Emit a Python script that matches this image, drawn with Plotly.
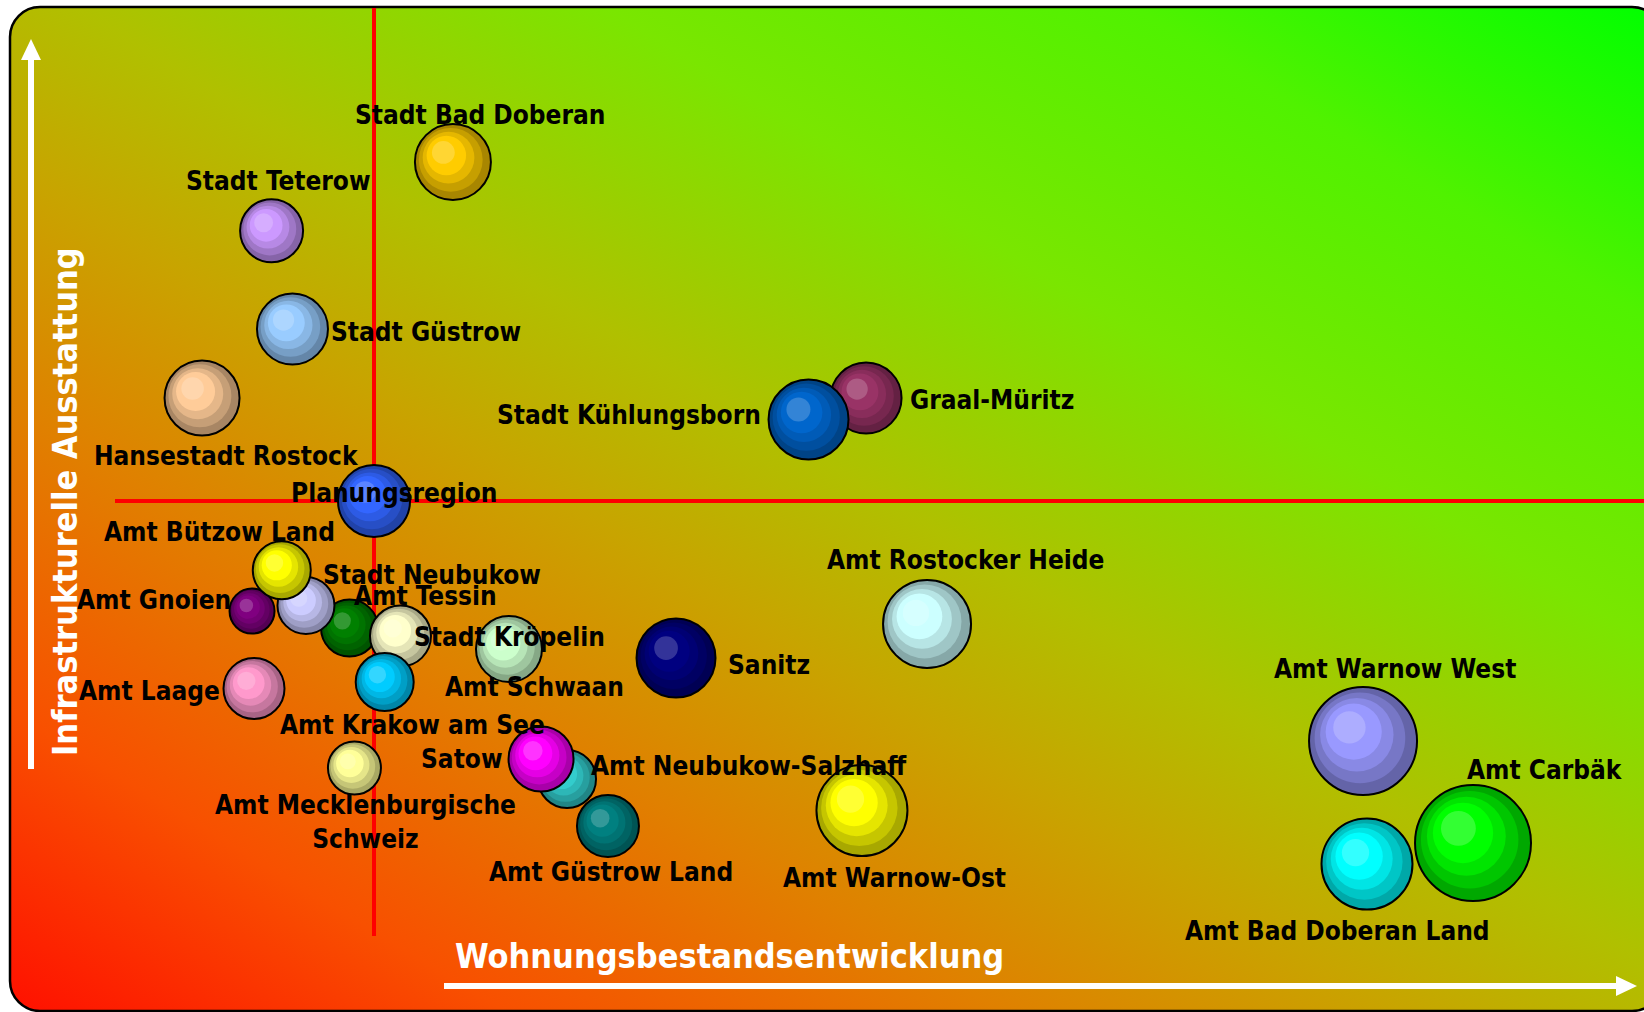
import base64
import plotly.graph_objects as go

W, H = 1644, 1012

# ---------------- data ----------------
names = [
    "Graal-Müritz", "Stadt Kühlungsborn", "Stadt Bad Doberan", "Stadt Teterow",
    "Stadt Güstrow", "Hansestadt Rostock", "Amt Tessin", "Stadt Neubukow",
    "Amt Gnoien", "Amt Bützow Land", "Stadt Kröpelin", "Amt Krakow am See",
    "Amt Schwaan", "Amt Laage", "Sanitz", "Amt Rostocker Heide",
    "Amt Mecklenburgische<br>Schweiz", "Amt Neubukow-Salzhaff", "Amt Güstrow Land",
    "Satow", "Amt Warnow-Ost", "Amt Warnow West", "Amt Bad Doberan Land",
    "Amt Carbäk", "Planungsregion",
]
# Wohnungsbestandsentwicklung (index, 0-100 scale)
wohnung = [
    52.68, 49.18, 27.55, 16.52, 17.79, 12.29, 21.26, 18.61,
    15.33, 17.14, 24.36, 23.40, 30.96, 15.45, 41.12, 56.39,
    21.56, 34.49, 36.98, 32.91, 52.43, 82.91, 83.15, 89.60, 22.75,
]
# Infrastrukturelle Ausstattung (index, 0-100 scale)
infra = [
    60.67, 58.55, 83.99, 77.20, 67.49, 60.67, 37.94, 40.17,
    39.62, 43.65, 37.15, 32.61, 35.87, 31.97, 34.98, 38.34,
    24.11, 23.02, 18.38, 25.00, 19.91, 26.78, 14.62, 16.70, 50.49,
]
# bubble size (diameter)
bubble = [
    71, 80, 76, 63, 71, 75, 57, 57,
    45, 58, 61, 58, 66, 61, 79, 88,
    53, 58, 62, 65, 91, 108, 91, 116, 72,
]
base_colors = [
    "#993366", "#0066CC", "#FFCC00", "#CC99FF", "#99CCFF", "#FFCC99", "#008000", "#CCCCFF",
    "#800080", "#FFFF00", "#FFFFCC", "#00CCFF", "#CCFFCC", "#FF99CC", "#000080", "#CCFFFF",
    "#FFFF99", "#33CCCC", "#008080", "#FF00FF", "#FFFF00", "#9999FF", "#00FFFF", "#00FF00", "#3366FF",
]

x_title = "Wohnungsbestandsentwicklung"
y_title = "Infrastrukturelle Ausstattung"
ref_name = "Planungsregion"

# ---------------- label placement (layout only): xshift px, yshift px, anchor ----------------
label_place = [
    (42, -2, "left"), (-46, 4, "right"), (27, 47, "center"), (7, 50, "center"),
    (37, -3, "left"), (24, -58, "center"), (76, 32, "center"), (15, 30, "left"),
    (-19, 11, "right"), (-62, 38, "center"), (12, -1, "left"), (28, -43, "center"),
    (26, -38, "center"), (-32, -3, "right"), (50, -7, "left"), (38, 64, "center"),
    (11, -54, "center"), (22, 13, "left"), (3, -46, "center"), (-36, 0, "right"),
    (33, -67, "center"), (32, 72, "center"), (-29, -67, "center"), (72, 73, "center"),
    (20, 8, "center"),
]

XR = (0, 100)
YR = (0, 100)
FONT = "DejaVu Sans Condensed, DejaVu Sans"


def hex_rgb(h):
    h = h.lstrip("#")
    return tuple(int(h[i:i + 2], 16) for i in (0, 2, 4))


def shade(h, f):
    r, g, b = hex_rgb(h)
    return "rgb(%d,%d,%d)" % (min(255, r * f), min(255, g * f), min(255, b * f))


def tint(h, t):
    r, g, b = hex_rgb(h)
    return "rgb(%d,%d,%d)" % (r + (255 - r) * t, g + (255 - g) * t, b + (255 - b) * t)


# px -> data conversion (plot area = full figure)
ux = (XR[1] - XR[0]) / W
uy = (YR[1] - YR[0]) / H

ring_scale = [1.0, 0.84, 0.68, 0.52, 0.30]
ring_offk = 0.36

fig = go.Figure()

for i, nm in enumerate(names):
    d = bubble[i]
    c = base_colors[i]
    xs, ys, ss, cs, lw = [], [], [], [], []
    ring_cols = [shade(c, 0.66), shade(c, 0.78), shade(c, 0.9), shade(c, 1.0), tint(c, 0.2)]
    for k, sc in enumerate(ring_scale):
        s = d * sc
        off = (d - s) / 2 * ring_offk
        xs.append(wohnung[i] - off * ux)
        ys.append(infra[i] + off * uy)
        ss.append(s)
        cs.append(ring_cols[k])
        lw.append(2 if k == 0 else 0)
    fig.add_trace(go.Scatter(
        x=xs, y=ys, mode="markers", name=nm.replace("<br>", " "),
        marker=dict(size=ss, color=cs, opacity=1,
                    line=dict(width=lw, color="black")),
        hoverinfo="skip", showlegend=False,
    ))

# labels
for i, nm in enumerate(names):
    dx, dy, anc = label_place[i]
    fig.add_annotation(
        x=wohnung[i], y=infra[i], xref="x", yref="y", text=nm,
        showarrow=False, xshift=dx, yshift=dy, xanchor=anc, yanchor="middle",
        font=dict(family=FONT, size=26, color="black", weight="bold"),
    )

# reference cross lines through Planungsregion
ri = names.index(ref_name)


def py2paper(p):
    return 1 - p / H


def px2paper(p):
    return p / W


shapes = [
    dict(type="line", xref="x", yref="paper", x0=wohnung[ri], x1=wohnung[ri],
         y0=py2paper(936), y1=py2paper(8), line=dict(color="#FF0000", width=4), layer="below"),
    dict(type="line", xref="paper", yref="y", x0=px2paper(115), x1=1.0,
         y0=infra[ri], y1=infra[ri], line=dict(color="#FF0000", width=4), layer="below"),
]

# white axis arrows
shapes.append(dict(type="line", xref="paper", yref="paper",
                   x0=px2paper(31), x1=px2paper(31), y0=py2paper(769), y1=py2paper(58),
                   line=dict(color="white", width=6), layer="below"))
shapes.append(dict(type="path", xref="paper", yref="paper",
                   path="M %f %f L %f %f L %f %f Z" % (
                       px2paper(31), py2paper(39), px2paper(21), py2paper(60), px2paper(41), py2paper(60)),
                   fillcolor="white", line=dict(width=0), layer="below"))
shapes.append(dict(type="line", xref="paper", yref="paper",
                   x0=px2paper(444), x1=px2paper(1619), y0=py2paper(986), y1=py2paper(986),
                   line=dict(color="white", width=6), layer="below"))
shapes.append(dict(type="path", xref="paper", yref="paper",
                   path="M %f %f L %f %f L %f %f Z" % (
                       px2paper(1637), py2paper(986), px2paper(1616), py2paper(976), px2paper(1616), py2paper(996)),
                   fillcolor="white", line=dict(width=0), layer="below"))

# axis titles
fig.add_annotation(x=px2paper(453), y=py2paper(956), xref="paper", yref="paper",
                   text=x_title, showarrow=False, xanchor="left", yanchor="middle",
                   font=dict(family=FONT, size=34, color="white", weight="bold"))
fig.add_annotation(x=px2paper(65), y=py2paper(502), xref="paper", yref="paper",
                   text=y_title, showarrow=False, textangle=-90, xanchor="center", yanchor="middle",
                   font=dict(family=FONT, size=34, color="white", weight="bold"))

# gradient rounded background
svg = f'''<svg xmlns="http://www.w3.org/2000/svg" width="{W}" height="{H}" viewBox="0 0 {W} {H}">
<defs><linearGradient id="g" x1="0" y1="1" x2="1" y2="0">
<stop offset="0" stop-color="#FF1000"/>
<stop offset="0.15" stop-color="#F85000"/>
<stop offset="0.3" stop-color="#E08000"/>
<stop offset="0.42" stop-color="#C8A400"/>
<stop offset="0.52" stop-color="#B0C000"/>
<stop offset="0.68" stop-color="#7AE600"/>
<stop offset="0.84" stop-color="#50F200"/>
<stop offset="1" stop-color="#00FF00"/>
</linearGradient></defs>
<rect x="10" y="7" width="1652" height="1004" rx="30" ry="30" fill="url(#g)" stroke="#000" stroke-width="2.5"/>
</svg>'''
src = "data:image/svg+xml;base64," + base64.b64encode(svg.encode()).decode()

fig.update_layout(
    width=W, height=H, autosize=False,
    margin=dict(l=0, r=0, t=0, b=0, pad=0),
    paper_bgcolor="white", plot_bgcolor="rgba(0,0,0,0)",
    xaxis=dict(range=list(XR), visible=False, fixedrange=True),
    yaxis=dict(range=list(YR), visible=False, fixedrange=True),
    images=[dict(source=src, xref="paper", yref="paper", x=0, y=1, sizex=1, sizey=1,
                 xanchor="left", yanchor="top", sizing="stretch", layer="below")],
    shapes=shapes,
    showlegend=False,
)

fig.write_html(
    "out.html",
    config={"displayModeBar": False, "staticPlot": True},
    post_script="document.body.style.margin='0';document.body.style.overflow='hidden';",
)
